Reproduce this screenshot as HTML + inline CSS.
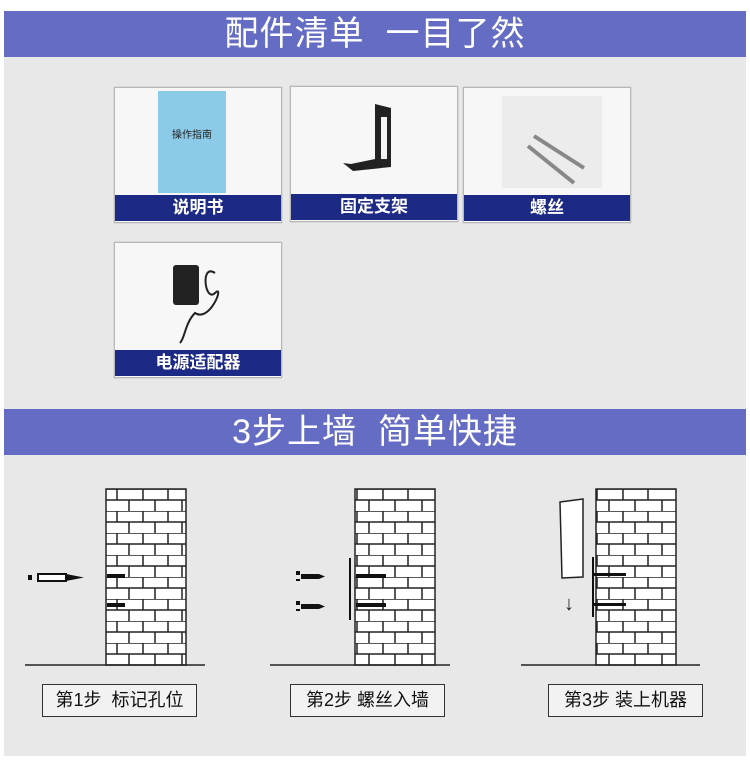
<!DOCTYPE html>
<html><head><meta charset="utf-8"><style>
body{margin:0;width:750px;height:766px;background:#fff;position:relative;overflow:hidden;font-family:"Liberation Sans","Noto Sans CJK SC",sans-serif}
.bg{position:absolute;left:4px;top:11px;width:742px;height:745px;background:#e8e8e8}
.hd{position:absolute;left:4px;width:742px;height:46px;background:#646cc3;color:#fff;font-size:34px;text-align:center;line-height:46px;letter-spacing:1px}
.card{position:absolute;width:166px;height:134px;background:#f7f7f7;border:1px solid #b8b8b8;box-shadow:0 0 1px #999}
.lb{position:absolute;left:0;bottom:1px;width:100%;height:26px;background:#1c2a85;color:#fff;font-size:17px;text-align:center;line-height:26px;font-weight:bold}
.sb{position:absolute;height:31px;border:1px solid #333;background:#f2f2f2;font-size:18px;line-height:31px;text-align:center;color:#111}
</style></head><body>
<div class="bg"></div>
<div class="hd" style="top:11px">配件清单&nbsp;&nbsp;一目了然</div>
<div class="card" style="left:114px;top:87px"><div style="position:absolute;left:43px;top:3px;width:68px;height:102px;background:#8ccbe8;font-size:10px;text-align:center;line-height:90px;color:#222">操作指南</div><div class="lb">说明书</div></div>
<div class="card" style="left:290px;top:86px"><svg width="166" height="108" style="position:absolute;left:0;top:0"><path d="M84 17 L100 21 L100 80 L62 84 L52 76 L60 77 L84 72 Z" fill="#222"/><rect x="90" y="30" width="6" height="42" fill="#f4f4f4"/></svg><div class="lb">固定支架</div></div>
<div class="card" style="left:463px;top:87px"><svg width="166" height="108" style="position:absolute;left:0;top:0"><rect x="38" y="8" width="100" height="92" fill="#ececec"/><path d="M70 48 L120 80 M64 58 L110 95" stroke="#888" stroke-width="4"/></svg><div class="lb">螺丝</div></div>
<div class="card" style="left:114px;top:242px"><svg width="166" height="108" style="position:absolute;left:0;top:0"><rect x="58" y="22" width="26" height="40" fill="#222" rx="3"/><path d="M100 30 C85 20 90 60 100 50 C110 40 95 80 80 70 C70 80 70 95 65 100" stroke="#222" stroke-width="2" fill="none"/></svg><div class="lb">电源适配器</div></div>
<div class="hd" style="top:409px">3步上墙&nbsp;&nbsp;简单快捷</div>
<svg width="750" height="766" style="position:absolute;left:0;top:0">
<defs><pattern id="br" x="106" y="489" width="80" height="22" patternUnits="userSpaceOnUse">
<rect width="80" height="22" fill="#fff"/>
<path d="M0 0H80M0 11H80M11 0V11M37 0V11M62 0V11M23 11V22M49 11V22M76 11V22" stroke="#222" stroke-width="1.5" fill="none"/></pattern></defs>
<g stroke="#222" stroke-width="1.5">
<rect x="106" y="489" width="80" height="176" fill="url(#br)"/>
<rect x="355" y="489" width="80" height="176" fill="url(#br)" style=""/>
<rect x="596" y="489" width="80" height="176" fill="url(#br)"/>
<line x1="25" y1="665" x2="205" y2="665"/><line x1="270" y1="665" x2="450" y2="665"/><line x1="521" y1="665" x2="700" y2="665"/>
</g>
<g fill="#111"><rect x="107" y="574" width="18" height="4"/><rect x="107" y="603" width="18" height="4"/>
<rect x="28" y="575" width="4" height="5"/><rect x="38" y="574" width="28" height="7" fill="#fff" stroke="#111" stroke-width="2"/><path d="M66 574L84 577.5L66 581Z"/>
<rect x="356" y="574" width="30" height="4"/><rect x="356" y="603" width="30" height="4"/><rect x="349" y="558" width="2" height="62"/>
<path d="M296 571h4v4h-4v4h4v2h-4zM301 574h18l6 2.5-6 2.5h-18z"/><path d="M296 601h4v4h-4v4h4v2h-4zM301 604h18l6 2.5-6 2.5h-18z"/>
<rect x="592" y="557" width="2" height="60"/><rect x="594" y="573" width="32" height="3"/><rect x="594" y="603" width="32" height="3"/>
</g>
<path d="M560 502L583 499L583 577L562 578Z" fill="#fff" stroke="#222" stroke-width="1.5"/>
<text x="564" y="610" font-size="20" fill="#222" font-family="Liberation Sans, DejaVu Sans">↓</text>
</svg>
<div class="sb" style="left:42px;top:684px;width:153px">第1步&nbsp;&nbsp;标记孔位</div>
<div class="sb" style="left:290px;top:684px;width:153px">第2步&nbsp;螺丝入墙</div>
<div class="sb" style="left:548px;top:684px;width:153px">第3步 装上机器</div>
</body></html>
